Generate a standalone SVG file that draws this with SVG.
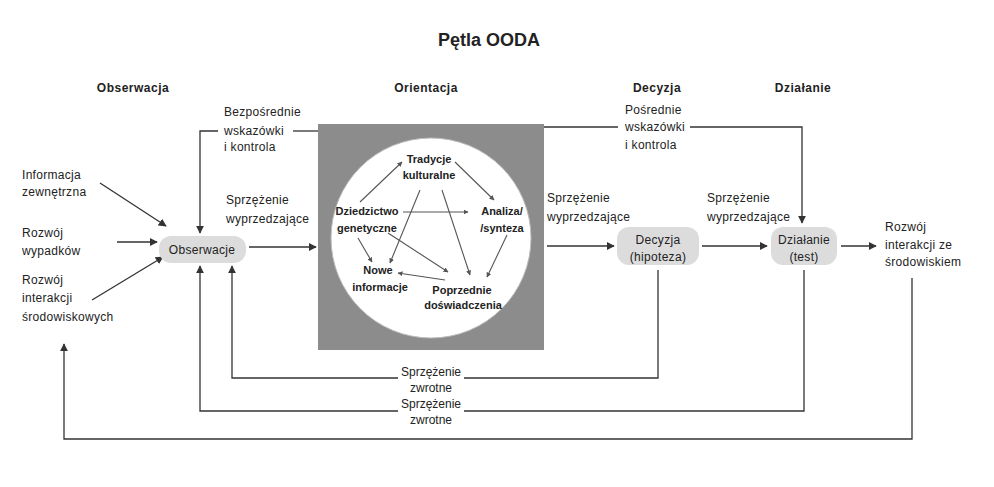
<svg xmlns="http://www.w3.org/2000/svg" width="994" height="487" viewBox="0 0 994 487">
<style>
text{font-family:"Liberation Sans",Arial,sans-serif;fill:#222;}
.t{font-size:12px;letter-spacing:0.3px;}
.h{font-size:12px;font-weight:bold;letter-spacing:0.5px;}
.c{font-size:11px;font-weight:bold;text-anchor:middle;}
.m{text-anchor:middle;}
.ln{fill:none;stroke:#333;stroke-width:1.3;}
.cl{fill:none;stroke:#555;stroke-width:1.1;}
.pill{fill:#dcdcdc;}
.fb{font-size:12px;text-anchor:middle;}
</style>
<defs>
<marker id="ah" viewBox="0 0 10 10" refX="9" refY="5" markerWidth="8" markerHeight="8" markerUnits="userSpaceOnUse" orient="auto"><path d="M0,0 L10,5 L0,10 z" fill="#333"/></marker>
<marker id="sh" viewBox="0 0 10 10" refX="9" refY="5" markerWidth="5" markerHeight="5" markerUnits="userSpaceOnUse" orient="auto"><path d="M0,0 L10,5 L0,10 z" fill="#555"/></marker>
</defs>
<rect width="994" height="487" fill="#fff"/>
<text x="489" y="46" class="m" style="font-size:18px;font-weight:bold">Pętla OODA</text>
<g id="headers">
<text x="133" y="92" class="h m">Obserwacja</text>
<text x="426" y="92" class="h m">Orientacja</text>
<text x="657" y="92" class="h m">Decyzja</text>
<text x="803" y="92" class="h m">Działanie</text>
</g>
<g id="orientacja">
<rect x="318" y="124" width="226" height="226" fill="#8c8c8c"/>
<circle cx="431" cy="238" r="100" fill="#fff" stroke="#bbb" stroke-width="1"/>
</g>
<g id="connectors">
<line class="ln" x1="100" y1="183" x2="166" y2="226" marker-end="url(#ah)"/>
<line class="ln" x1="117" y1="242" x2="157" y2="242" marker-end="url(#ah)"/>
<line class="ln" x1="92" y1="300" x2="163" y2="257" marker-end="url(#ah)"/>
<polyline class="ln" points="218,131 200,131 200,233" marker-end="url(#ah)"/>
<line class="ln" x1="293" y1="131" x2="318" y2="131"/>
<line class="ln" x1="249" y1="247" x2="316" y2="247" marker-end="url(#ah)"/>
<line class="ln" x1="544" y1="127" x2="618" y2="127"/>
<polyline class="ln" points="690,127 802,127 802,223" marker-end="url(#ah)"/>
<line class="ln" x1="547" y1="246" x2="614" y2="246" marker-end="url(#ah)"/>
<line class="ln" x1="702" y1="246" x2="767" y2="246" marker-end="url(#ah)"/>
<line class="ln" x1="841" y1="246" x2="876" y2="246" marker-end="url(#ah)"/>
<polyline class="ln" points="398,378 232,378 232,266" marker-end="url(#ah)"/>
<polyline class="ln" points="464,378 658,378 658,270"/>
<polyline class="ln" points="398,411 200,411 200,266" marker-end="url(#ah)"/>
<polyline class="ln" points="464,411 804,411 804,270"/>
<polyline class="ln" points="912,278 912,439 64,439 64,344" marker-end="url(#ah)"/>
<line class="cl" x1="360" y1="202" x2="402" y2="162" marker-end="url(#sh)"/>
<line class="cl" x1="455" y1="162" x2="494" y2="200" marker-end="url(#sh)"/>
<line class="cl" x1="403" y1="212" x2="468" y2="212" marker-end="url(#sh)"/>
<line class="cl" x1="507" y1="235" x2="487" y2="277" marker-end="url(#sh)"/>
<line class="cl" x1="358" y1="238" x2="372" y2="262" marker-end="url(#sh)"/>
<line class="cl" x1="388" y1="233" x2="448" y2="272" marker-end="url(#sh)"/>
<line class="cl" x1="420" y1="190" x2="390" y2="263" marker-end="url(#sh)"/>
<line class="cl" x1="442" y1="190" x2="470" y2="275" marker-end="url(#sh)"/>
<line class="cl" x1="445" y1="280" x2="398" y2="273" marker-end="url(#sh)"/>
</g>
<g id="n-inputs">
<text x="22" y="179" class="t">Informacja</text>
<text x="22" y="196" class="t">zewnętrzna</text>
<text x="22" y="237" class="t">Rozwój</text>
<text x="22" y="255" class="t">wypadków</text>
<text x="22" y="284" class="t">Rozwój</text>
<text x="22" y="302" class="t">interakcji</text>
<text x="22" y="321" class="t">środowiskowych</text>
</g>
<g id="n-obserwacje">
<rect class="pill" x="159" y="236" width="87" height="27" rx="12"/>
<text x="202" y="254" class="t m">Obserwacje</text>
</g>
<g id="l-bezposrednie">
<text x="224" y="116" class="t">Bezpośrednie</text>
<text x="224" y="135" class="t">wskazówki</text>
<text x="224" y="151" class="t">i kontrola</text>
</g>
<g id="l-wyprz1">
<text x="226" y="204" class="t">Sprzężenie</text>
<text x="226" y="223" class="t">wyprzedzające</text>
</g>
<g id="n-tradycje"><text x="429" y="163" class="c">Tradycje</text><text x="429" y="179" class="c">kulturalne</text></g>
<g id="n-dziedzictwo"><text x="367" y="215" class="c">Dziedzictwo</text><text x="367" y="232" class="c">genetyczne</text></g>
<g id="n-analiza"><text x="502" y="215" class="c">Analiza/</text><text x="502" y="232" class="c">/synteza</text></g>
<g id="n-nowe"><text x="378" y="274" class="c">Nowe</text><text x="380" y="291" class="c">informacje</text></g>
<g id="n-poprzednie"><text x="462" y="294" class="c">Poprzednie</text><text x="463" y="309" class="c">doświadczenia</text></g>
<g id="l-posrednie">
<text x="625" y="114" class="t">Pośrednie</text>
<text x="625" y="131" class="t">wskazówki</text>
<text x="625" y="149" class="t">i kontrola</text>
</g>
<g id="l-wyprz2">
<text x="547" y="202" class="t">Sprzężenie</text>
<text x="547" y="221" class="t">wyprzedzające</text>
</g>
<g id="n-decyzja">
<rect class="pill" x="617" y="227" width="82" height="38" rx="12"/>
<text x="658" y="244" class="t m">Decyzja</text>
<text x="658" y="261" class="t m">(hipoteza)</text>
</g>
<g id="l-wyprz3">
<text x="707" y="202" class="t">Sprzężenie</text>
<text x="707" y="221" class="t">wyprzedzające</text>
</g>
<g id="n-dzialanie">
<rect class="pill" x="771" y="227" width="66" height="38" rx="12"/>
<text x="804" y="244" class="t m">Działanie</text>
<text x="804" y="261" class="t m">(test)</text>
</g>
<g id="n-rozwoj-ze">
<text x="885" y="231" class="t">Rozwój</text>
<text x="885" y="249" class="t">interakcji ze</text>
<text x="885" y="266" class="t">środowiskiem</text>
</g>
<g id="l-zwrotne1">
<text x="431" y="376" class="fb">Sprzężenie</text>
<text x="431" y="392" class="fb">zwrotne</text>
</g>
<g id="l-zwrotne2">
<text x="431" y="408" class="fb">Sprzężenie</text>
<text x="431" y="424" class="fb">zwrotne</text>
</g>
</svg>
